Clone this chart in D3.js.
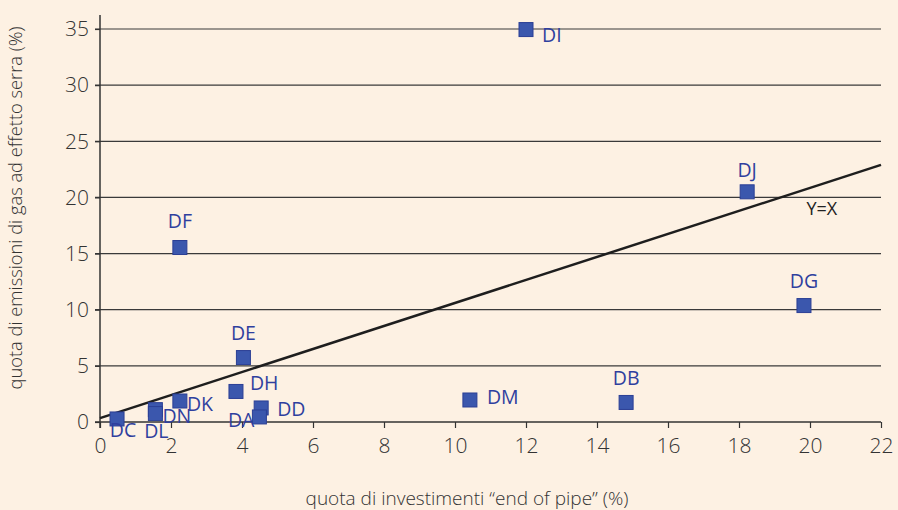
<!DOCTYPE html>
<html><head><meta charset="utf-8">
<script src="https://cdn.jsdelivr.net/npm/d3@7"></script>
<style>
html,body{margin:0;padding:0;background:#fdf1e3;}
svg{display:block;}
text{font-family:"Open Sans","Lato",sans-serif;}
</style></head>
<body>
<svg id="chart" width="898" height="510"></svg>
<script>
// ---- data ----
const names  = ["DI","DJ","DG","DF","DE","DH","DK","DD","DA","DN","DL","DC","DM","DB"];
const xVals  = [12.0,18.23,19.83,2.25,4.04,3.83,2.25,4.54,4.49,1.56,1.56,0.48,10.42,14.82];
const yVals  = [34.95,20.5,10.37,15.54,5.74,2.72,1.87,1.25,0.45,1.1,0.75,0.27,1.96,1.74];
const xTicks = [0,2,4,6,8,10,12,14,16,18,20,22];
const yTicks = [0,5,10,15,20,25,30,35];
const lineX  = [0,22];
const lineY  = [0.35,22.9];
const lineLabel = "Y=X";
const xTitle = "quota di investimenti \u201cend of pipe\u201d (%)";
const yTitle = "quota di emissioni di gas ad effetto serra (%)";
// label placement (layout only): [dx, dy of text centre, anchor]
const labelPlace = {DI:[16,6,"start"],DJ:[0,-22,"middle"],DG:[0,-24,"middle"],DF:[0,-26,"middle"],
  DE:[0,-24,"middle"],DH:[14,-8,"start"],DK:[7,3,"start"],DD:[16,1,"start"],DA:[-5,3,"end"],
  DN:[7,7,"start"],DL:[1,18,"middle"],DC:[6,11,"middle"],DM:[17,-3,"start"],DB:[0,-24,"middle"]};

const svg = d3.select("#chart");
const x = d3.scaleLinear().domain([0,22]).range([100,881]);
const y = d3.scaleLinear().domain([0,35]).range([422,29]);

// gridlines
svg.append("g").selectAll("line").data(yTicks.filter(d=>d>0)).join("line")
  .attr("x1",95).attr("x2",881).attr("y1",d=>y(d)).attr("y2",d=>y(d))
  .attr("stroke","#3a3a3a").attr("stroke-width",1.2);

// x axis
const xAx = svg.append("g").attr("transform","translate(0,422)")
  .call(d3.axisBottom(x).tickValues(xTicks).tickSize(6).tickSizeOuter(0).tickPadding(10));
xAx.select(".domain").attr("stroke","#333").attr("stroke-width",1.5).attr("d","M95,0H881");
xAx.selectAll(".tick line").attr("stroke","#333").attr("stroke-width",1.2);
xAx.selectAll(".tick text").attr("font-size",21).attr("font-weight",300).attr("fill","#333");

// y axis
const yAx = svg.append("g").attr("transform","translate(100,0)")
  .call(d3.axisLeft(y).tickValues(yTicks).tickSize(5).tickSizeOuter(0).tickPadding(6));
yAx.select(".domain").attr("stroke","#333").attr("stroke-width",1.5).attr("d","M0,15V428");
yAx.selectAll(".tick line").attr("stroke","#333").attr("stroke-width",1.2);
yAx.selectAll(".tick text").attr("font-size",21).attr("font-weight",300).attr("fill","#333");

// trend line
svg.append("line")
  .attr("x1",x(lineX[0])).attr("y1",y(lineY[0])).attr("x2",x(lineX[1])).attr("y2",y(lineY[1]))
  .attr("stroke","#1e1e1e").attr("stroke-width",2.5);
svg.append("text").attr("x",x(19.9)).attr("y",y(19.0)).attr("dy","0.35em").attr("font-size",18)
  .attr("fill","#222").text(lineLabel);

// points
const pts = names.map((n,i)=>({n,x:xVals[i],y:yVals[i]}));
svg.append("g").selectAll("rect").data(pts).join("rect")
  .attr("x",d=>x(d.x)-7).attr("y",d=>y(d.y)-7).attr("width",14).attr("height",14)
  .attr("fill","#3b57ad").attr("stroke","#2b3f95").attr("stroke-width",1);
svg.append("g").selectAll("text").data(pts).join("text")
  .attr("x",d=>x(d.x)+labelPlace[d.n][0]).attr("y",d=>y(d.y)+labelPlace[d.n][1])
  .attr("dy","0.35em").attr("text-anchor",d=>labelPlace[d.n][2])
  .attr("font-size",19.5).attr("fill","#2f3f9e").text(d=>d.n);

// titles
svg.append("text").attr("x",467).attr("y",505).attr("text-anchor","middle")
  .attr("font-size",19).attr("font-weight",300).attr("fill","#333").text(xTitle);
svg.append("text").attr("transform","translate(22,208) rotate(-90)").attr("text-anchor","middle")
  .attr("font-size",18.3).attr("font-weight",300).attr("fill","#333").text(yTitle);
</script>
</body></html>
